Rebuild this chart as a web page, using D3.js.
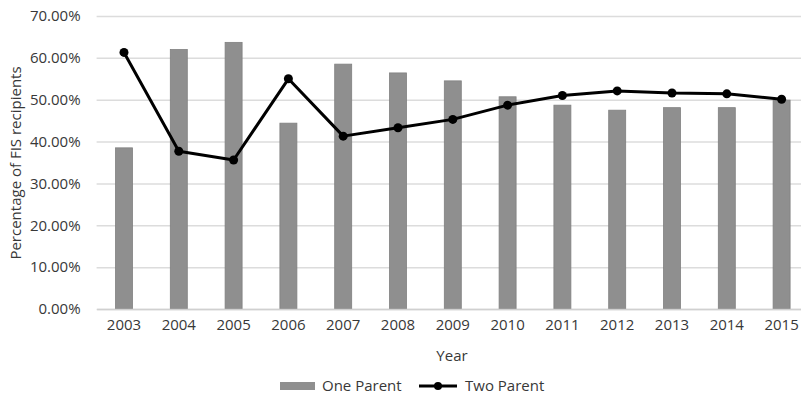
<!DOCTYPE html>
<html>
<head>
<meta charset="utf-8">
<script src="https://cdn.jsdelivr.net/npm/d3@7"></script>
<style>
  html, body { margin: 0; padding: 0; background: #fff; }
  svg { display: block; font-family: "Open Sans", "Noto Sans", sans-serif; }
</style>
</head>
<body>
<svg id="chart" width="801" height="396"></svg>
<script>
// FIS recipients by family type, 2003–2015
const years = ["2003","2004","2005","2006","2007","2008","2009","2010","2011","2012","2013","2014","2015"];
const oneParent = [38.5, 62.0, 63.7, 44.4, 58.5, 56.4, 54.5, 50.7, 48.7, 47.5, 48.1, 48.1, 49.9];
const twoParent = [61.3, 37.7, 35.6, 55.0, 41.3, 43.3, 45.3, 48.7, 51.0, 52.1, 51.6, 51.4, 50.1];
const yTicks = [0, 10, 20, 30, 40, 50, 60, 70];
const seriesNames = ["One Parent", "Two Parent"];

const FONT = "15px";
const TEXT = "#383838";

const svg = d3.select("#chart");
const plot = { left: 96.6, right: 809, top: 16, bottom: 309 };

const x = d3.scaleBand().domain(years)
  .range([plot.left, plot.right])
  .paddingInner(0.69).paddingOuter(0.345);
const y = d3.scaleLinear().domain([0, 70]).range([plot.bottom, plot.top]);

// horizontal gridlines
svg.append("g")
  .attr("transform", `translate(${plot.left},0)`)
  .call(d3.axisLeft(y).tickValues(yTicks).tickSize(-(plot.right - plot.left)).tickFormat(""))
  .call(g => g.select(".domain").remove())
  .call(g => g.selectAll(".tick line").attr("stroke", "#dcdcdc").attr("stroke-width", 1.5));

// y tick labels
svg.append("g")
  .attr("transform", `translate(${plot.left - 13},0)`)
  .call(d3.axisLeft(y).tickValues(yTicks).tickSize(0).tickFormat(d => d.toFixed(2) + "%"))
  .call(g => g.select(".domain").remove())
  .call(g => g.selectAll("text").attr("fill", TEXT).style("font-size", FONT)
    .style("font-family", "'Open Sans', sans-serif"));

// bars
svg.append("g").selectAll("rect")
  .data(years.map((yr, i) => ({ yr, v: oneParent[i] })))
  .join("rect")
  .attr("x", d => x(d.yr))
  .attr("width", x.bandwidth())
  .attr("y", d => y(d.v))
  .attr("height", d => y(0) - y(d.v))
  .attr("fill", "#8f8f8f")
  .attr("stroke", "#808080")
  .attr("stroke-width", 0.8);

// x axis baseline and labels
svg.append("g")
  .attr("transform", `translate(0,${plot.bottom})`)
  .call(d3.axisBottom(x).tickSize(0).tickPadding(10))
  .call(g => g.select(".domain").attr("stroke", "#d0d0d0").attr("stroke-width", 1.5))
  .call(g => g.selectAll("text").attr("fill", TEXT).style("font-size", FONT)
    .style("font-family", "'Open Sans', sans-serif"));

// two-parent line with markers
const cx = yr => x(yr) + x.bandwidth() / 2;
const pts = years.map((yr, i) => ({ yr, v: twoParent[i] }));
svg.append("path")
  .datum(pts)
  .attr("fill", "none")
  .attr("stroke", "#000")
  .attr("stroke-width", 3)
  .attr("stroke-linejoin", "round")
  .attr("d", d3.line().x(d => cx(d.yr)).y(d => y(d.v)));
svg.append("g").selectAll("circle")
  .data(pts)
  .join("circle")
  .attr("cx", d => cx(d.yr))
  .attr("cy", d => y(d.v))
  .attr("r", 4.5)
  .attr("fill", "#000");

// axis titles
svg.append("text")
  .attr("x", 452).attr("y", 361)
  .attr("text-anchor", "middle")
  .attr("fill", TEXT).style("font-size", FONT)
  .text("Year");
svg.append("text")
  .attr("transform", "translate(21,163) rotate(-90)")
  .attr("text-anchor", "middle")
  .attr("fill", TEXT).style("font-size", FONT)
  .text("Percentage of FIS recipients");

// legend
const leg = svg.append("g");
leg.append("rect").attr("x", 280).attr("y", 382).attr("width", 35).attr("height", 8).attr("fill", "#8f8f8f");
leg.append("text").attr("x", 322).attr("y", 391).attr("fill", TEXT).style("font-size", FONT).text(seriesNames[0]);
leg.append("line").attr("x1", 419).attr("x2", 457).attr("y1", 386).attr("y2", 386)
  .attr("stroke", "#000").attr("stroke-width", 3);
leg.append("circle").attr("cx", 438).attr("cy", 386).attr("r", 4).attr("fill", "#000");
leg.append("text").attr("x", 465).attr("y", 391).attr("fill", TEXT).style("font-size", FONT).text(seriesNames[1]);
</script>
</body>
</html>
